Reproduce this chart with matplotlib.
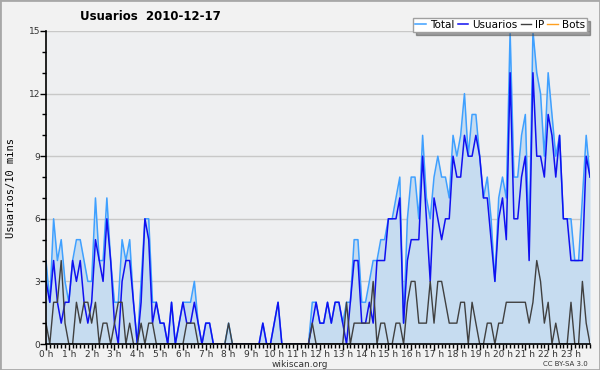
import numpy as np
import matplotlib
matplotlib.use("Agg")
import matplotlib.pyplot as plt
from matplotlib.patches import Rectangle

# 10-minute slots, 0:00 .. 23:50
usuarios = [3, 2, 4, 2, 1, 2, 2, 4, 3, 4, 2, 1, 2, 5, 4, 3, 6, 4, 1, 0,
            3, 4, 4, 2, 0, 2, 6, 5, 1, 2, 1, 1, 0, 2, 0, 1, 2, 1, 1, 2,
            1, 0, 1, 1, 0, 0, 0, 0, 0, 0, 0, 0, 0, 0, 0, 0, 0, 1, 0, 0,
            1, 2, 0, 0, 0, 0, 0, 0, 0, 0, 1, 2, 1, 1, 2, 1, 2, 2, 1, 0,
            2, 4, 4, 1, 1, 2, 1, 4, 4, 4, 6, 6, 6, 7, 1, 4, 5, 5, 5, 9,
            6, 3, 7, 6, 5, 6, 6, 9, 8, 8, 10, 9, 9, 10, 9, 7, 7, 5, 3, 6,
            7, 5, 13, 6, 6, 8, 9, 4, 13, 9, 9, 8, 11, 10, 8, 10, 6, 6, 4, 4,
            4, 4, 9, 8]
ip = [1, 0, 2, 2, 4, 1, 0, 0, 2, 1, 2, 2, 1, 2, 0, 1, 1, 0, 1, 2,
      2, 0, 1, 0, 0, 1, 0, 1, 1, 0, 0, 0, 0, 0, 0, 0, 0, 1, 1, 1,
      0, 0, 0, 0, 0, 0, 0, 0, 1, 0, 0, 0, 0, 0, 0, 0, 0, 0, 0, 0,
      0, 0, 0, 0, 0, 0, 0, 0, 0, 0, 1, 0, 0, 0, 0, 0, 0, 0, 0, 2,
      0, 1, 1, 1, 1, 1, 3, 0, 1, 1, 0, 0, 1, 1, 0, 2, 3, 3, 1, 1,
      1, 3, 1, 3, 3, 2, 1, 1, 1, 2, 2, 0, 2, 1, 0, 0, 1, 1, 0, 1,
      1, 2, 2, 2, 2, 2, 2, 1, 2, 4, 3, 1, 2, 0, 1, 0, 0, 0, 2, 0,
      0, 3, 1, 0]
total = [4, 2, 6, 4, 5, 3, 2, 4, 5, 5, 4, 3, 3, 7, 4, 4, 7, 4, 2, 2,
         5, 4, 5, 2, 0, 3, 6, 6, 2, 2, 1, 1, 0, 2, 0, 1, 2, 2, 2, 3,
         1, 0, 1, 1, 0, 0, 0, 0, 1, 0, 0, 0, 0, 0, 0, 0, 0, 1, 0, 0,
         1, 2, 0, 0, 0, 0, 0, 0, 0, 0, 2, 2, 1, 1, 2, 1, 2, 2, 1, 2,
         2, 5, 5, 2, 2, 3, 4, 4, 5, 5, 6, 6, 7, 8, 1, 6, 8, 8, 6, 10,
         7, 6, 8, 9, 8, 8, 7, 10, 9, 10, 12, 9, 11, 11, 9, 7, 8, 6, 3, 7,
         8, 7, 15, 8, 8, 10, 11, 5, 15, 13, 12, 9, 13, 11, 9, 10, 6, 6, 6, 4,
         4, 7, 10, 8]
bots = [0] * 144
hour_labels = ["%d h" % h for h in range(24)]

x = np.arange(len(total))

fig = plt.figure(figsize=(6, 3.7), dpi=100, facecolor="#f2f2f2")
fig.patches.append(Rectangle((0, 0), 1, 1, transform=fig.transFigure,
                             fill=False, edgecolor="#a8a8a8", lw=2))
ax = fig.add_axes([46/600, 26/370, 544/600, 313/370], facecolor="#eeeff1")

ax.fill_between(x, total, color="#c6dcf0", lw=0)
ax.plot(x, total, color="#3fa0ff", lw=1.1, label="Total")
ax.plot(x, usuarios, color="#1010f0", lw=1.1, label="Usuarios")
ax.plot(x, ip, color="#404040", lw=1.0, label="IP")
ax.plot(x, bots, color="#ffa020", lw=1.0, label="Bots", alpha=0)

ax.set_xlim(0, 143)
ax.set_ylim(0, 15)
ax.set_yticks(range(0, 16, 3))
ax.set_yticks(range(16), minor=True)
ax.set_xticks(range(0, 144, 6))
ax.set_xticks(range(0, 144), minor=True)
ax.set_xticklabels(hour_labels)
ax.grid(axis="y", color="#c8c8c8", lw=1)
ax.set_axisbelow(True)
for s in ["top", "right"]:
    ax.spines[s].set_visible(False)
ax.spines["left"].set_linewidth(1.2)
ax.spines["bottom"].set_linewidth(1.2)
ax.tick_params(axis="both", which="major", length=4, width=1, labelsize=6.5,
               labelcolor="#333333", pad=0)
ax.tick_params(axis="both", which="minor", length=3, width=1)

ax.set_ylabel("Usuarios/10 mins", family="DejaVu Sans Mono", fontsize=7.5, labelpad=9)
fig.text(0.25, 0.956, "Usuarios  2010-12-17", ha="center", va="center",
         fontsize=8.5, fontweight="bold")
fig.text(0.5, 0.016, "wikiscan.org", ha="center", va="center", fontsize=6.5, color="#333333")
fig.text(0.98, 0.016, "CC BY-SA 3.0", ha="right", va="center", fontsize=5, color="#333333")

leg = ax.legend(ncol=4, loc="lower right", bbox_to_anchor=(0.995, 0.997),
                fontsize=7.5, frameon=True, fancybox=False, shadow=True,
                handlelength=1.0, handletextpad=0.4, columnspacing=0.3,
                borderpad=0.2, borderaxespad=0)
leg.get_frame().set_edgecolor("#a0a0a0")
for h in leg.legend_handles:
    h.set_alpha(1)

fig.savefig("out.png", dpi=100, facecolor=fig.get_facecolor())
